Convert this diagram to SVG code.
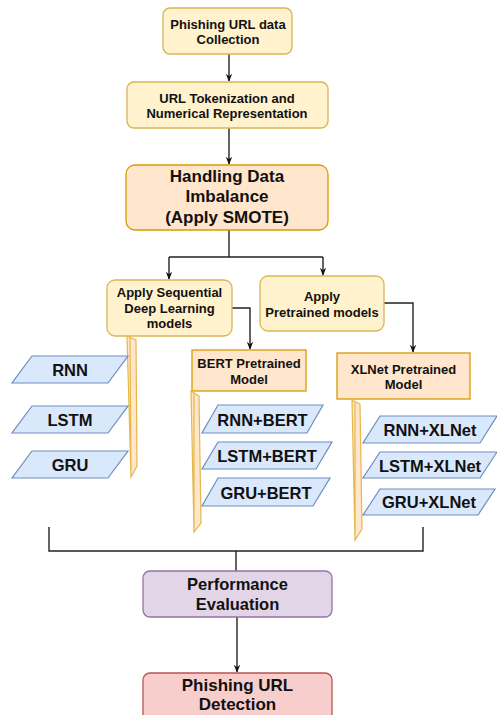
<svg xmlns="http://www.w3.org/2000/svg" width="497" height="715" viewBox="0 0 497 715">
<style>
text{font-family:"Liberation Sans",Arial,sans-serif;font-weight:bold;fill:#111;text-anchor:middle;dominant-baseline:central}
.y{fill:#fff2cc;stroke:#d6b656;stroke-width:1.3}
.o{fill:#ffe6cc;stroke:#d79b00;stroke-width:1.3}
.bar{fill:#ffe6cc;stroke:#e6b74a;stroke-width:1.2}
.p{fill:#dae8fc;stroke:#6c8ebf;stroke-width:1.2}
.c{fill:none;stroke:#222;stroke-width:1.4}
.s13{font-size:13px}
.s16{font-size:16.5px}
.s17{font-size:17px}
</style>
<defs>
<marker id="ah" viewBox="0 0 10 10" refX="9" refY="5" markerWidth="8" markerHeight="8" markerUnits="userSpaceOnUse" orient="auto">
<path d="M0,1 L10,5 L0,9 L3,5 Z" fill="#111"/>
</marker>
</defs>
<rect width="497" height="715" fill="#fff"/>
<g id="connectors">
<path class="c" d="M229,54 V81" marker-end="url(#ah)"/>
<path class="c" d="M229,128 V164" marker-end="url(#ah)"/>
<path class="c" d="M229,230 V257 M169,257 H323"/>
<path class="c" d="M169,257 V279" marker-end="url(#ah)"/>
<path class="c" d="M323,257 V275" marker-end="url(#ah)"/>
<path class="c" d="M232,308 H250 V349" marker-end="url(#ah)"/>
<path class="c" d="M384,303 H413 V352" marker-end="url(#ah)"/>
<path class="c" stroke-width="2" d="M49,527 V551 H423 V527 M236,551 V571"/>
<path class="c" d="M237,617 V672" marker-end="url(#ah)"/>
</g>
<g id="n1"><rect class="y" x="163" y="8" width="129" height="46" rx="7"/><text class="s13" x="228" y="24">Phishing URL data</text><text class="s13" x="228" y="39.5">Collection</text></g>
<g id="n2"><rect class="y" x="127" y="82" width="201" height="46" rx="7"/><text class="s13" x="227" y="98">URL Tokenization and</text><text class="s13" x="227" y="113.5">Numerical Representation</text></g>
<g id="n3"><rect class="o" x="126" y="165" width="202" height="65" rx="9"/><text class="s17" x="227" y="176.5">Handling Data</text><text class="s17" x="227" y="196.8">Imbalance</text><text class="s17" x="227" y="217">(Apply SMOTE)</text></g>
<g id="n4"><rect class="y" x="107" y="280" width="125" height="56" rx="8"/><text class="s13" x="169.5" y="292.5">Apply Sequential</text><text class="s13" x="169.5" y="308">Deep Learning</text><text class="s13" x="169.5" y="323.5">models</text></g>
<g id="n5"><rect class="y" x="260" y="276" width="124" height="55" rx="8"/><text class="s13" x="322" y="296.5">Apply</text><text class="s13" x="322" y="312">Pretrained models</text></g>
<g id="n6"><rect class="o" x="192" y="350" width="114" height="41"/><text class="s13" x="249" y="363.5">BERT Pretrained</text><text class="s13" x="249" y="379">Model</text></g>
<g id="n7"><rect class="o" x="337" y="353" width="133" height="46"/><text class="s13" x="403.5" y="369">XLNet Pretrained</text><text class="s13" x="403.5" y="384.5">Model</text></g>
<g id="bar1"><path class="bar" d="M127,336 L136,340 L137,466 L131,477 Z M130,338 L131,477"/></g>
<g id="bar2"><path class="bar" d="M191,391 L199,396 L201,523 L194,532 Z M194,393 L194,532"/></g>
<g id="bar3"><path class="bar" d="M352,400 L360,404 L362,529 L355,540 Z M355,402 L355,540"/></g>
<g id="rnn"><polygon class="p" points="32,356 128,356 108,383 12,383"/><text class="s16" x="70" y="370">RNN</text></g>
<g id="lstm"><polygon class="p" points="32,406 128,406 108,433 12,433"/><text class="s16" x="70" y="420">LSTM</text></g>
<g id="gru"><polygon class="p" points="32,451 128,451 108,478 12,478"/><text class="s16" x="70" y="465">GRU</text></g>
<g id="rnnbert"><polygon class="p" points="218,405 323,405 307,433 202,433"/><text class="s16" x="262.5" y="419.5">RNN+BERT</text></g>
<g id="lstmbert"><polygon class="p" points="218,442 332,442 316,469 202,469"/><text class="s16" x="267" y="456">LSTM+BERT</text></g>
<g id="grubert"><polygon class="p" points="218,478 330,478 313,506 202,506"/><text class="s16" x="266" y="492.5">GRU+BERT</text></g>
<g id="rnnxl"><polygon class="p" points="380,416 497,416 480,443 363,443"/><text class="s16" x="430" y="430">RNN+XLNet</text></g>
<g id="lstmxl"><polygon class="p" points="380,452 497,452 480,478 363,478"/><text class="s16" x="430" y="465.5">LSTM+XLNet</text></g>
<g id="gruxl"><polygon class="p" points="380,489 495,489 478,515 363,515"/><text class="s16" x="429" y="502">GRU+XLNet</text></g>
<g id="perf"><rect x="143" y="571" width="189" height="46" rx="7" fill="#e1d5e7" stroke="#9673a6" stroke-width="1.3"/><text class="s16" x="237.5" y="583.5">Performance</text><text class="s16" x="237.5" y="603.5">Evaluation</text></g>
<g id="detect"><rect x="143" y="673" width="189" height="50" rx="7" fill="#f8cecc" stroke="#b85450" stroke-width="1.3"/><text class="s17" x="237.5" y="685">Phishing URL</text><text class="s17" x="237.5" y="704.5">Detection</text></g>
</svg>
